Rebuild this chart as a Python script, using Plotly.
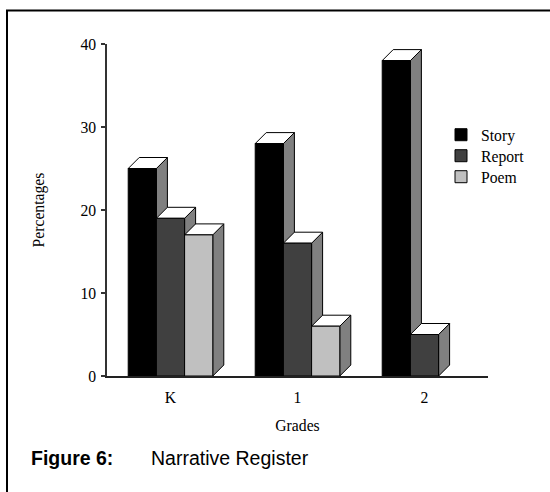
import plotly.graph_objects as go

# ---- data ----
grades = ["K", "1", "2"]
series_names = ["Story", "Report", "Poem"]
story = [25, 28, 38]
report = [19, 16, 5]
poem = [17, 6, None]

values = [story, report, poem]
front_colors = ["#000000", "#404040", "#c0c0c0"]
side_color = "#808080"
top_color = "#ffffff"

# ---- geometry constants (layout) ----
W, H = 550, 492
ML, MR, MT, MB = 107, 62, 44, 116
PW = W - ML - MR
PH = H - MT - MB
YMAX = 40
N_SER = 3
BAR_W = 0.222                     # fraction of a category slot
BARGAP = 1 - N_SER * BAR_W
DEPTH_PX = 11
DX = DEPTH_PX / (PW / len(grades))  # depth in category units
DY = DEPTH_PX / (PH / YMAX)         # depth in y units

SERIF = "Liberation Serif, Times New Roman, serif"
SANS = "Liberation Sans, Arial, sans-serif"
FS = 15.7

legend_ids = ["legend", "legend2", "legend3"]
legend_y_px = [135, 156, 177]


def px_to_paper_x(px):
    return (px - ML) / PW


def px_to_paper_y(py):
    return (H - MB - py) / PH


fig = go.Figure()

for j, (name, vals) in enumerate(zip(series_names, values)):
    fig.add_trace(go.Bar(
        x=grades, y=vals, name=name, legend=legend_ids[j],
        marker=dict(color=front_colors[j], line=dict(color="black", width=1)),
    ))

# 3-D depth faces (side + top) derived from the data values
shapes = []
for j, vals in enumerate(values):
    for i, v in enumerate(vals):
        if v is None:
            continue
        center = i + (j - (N_SER - 1) / 2) * BAR_W
        xl = center - BAR_W / 2
        xr = center + BAR_W / 2
        side = (f"M {xr},0 L {xr+DX},{DY} L {xr+DX},{v+DY} L {xr},{v} Z")
        top = (f"M {xl},{v} L {xl+DX},{v+DY} L {xr+DX},{v+DY} L {xr},{v} Z")
        for path, col in ((side, side_color), (top, top_color)):
            shapes.append(dict(type="path", path=path, xref="x", yref="y",
                               fillcolor=col, line=dict(color="black", width=1),
                               layer="below"))

# outer frame (extends past the right and bottom edges of the page)
shapes.append(dict(type="rect", xref="paper", yref="paper",
                   x0=px_to_paper_x(7), x1=px_to_paper_x(W + 20),
                   y0=px_to_paper_y(H + 20), y1=px_to_paper_y(10.5),
                   line=dict(color="black", width=2), fillcolor="rgba(0,0,0,0)",
                   layer="above"))

annotations = [
    dict(text="<b>Figure 6:</b>", xref="paper", yref="paper",
         x=px_to_paper_x(29), y=px_to_paper_y(458), xanchor="left", yanchor="middle",
         showarrow=False, font=dict(family=SANS, size=19.5, color="black")),
    dict(text="Narrative Register", xref="paper", yref="paper",
         x=px_to_paper_x(149), y=px_to_paper_y(458), xanchor="left", yanchor="middle",
         showarrow=False, font=dict(family=SANS, size=19.5, color="black")),
]

legend_common = dict(xanchor="left", yanchor="middle",
                     font=dict(family=SERIF, size=FS, color="black"),
                     bgcolor="rgba(0,0,0,0)", itemwidth=30)

layout_legends = {}
for lid, ypx in zip(legend_ids, legend_y_px):
    layout_legends[lid] = dict(x=px_to_paper_x(441), y=px_to_paper_y(ypx), **legend_common)

fig.update_layout(
    width=W, height=H,
    margin=dict(l=ML, r=MR, t=MT, b=MB, pad=0),
    paper_bgcolor="white", plot_bgcolor="white",
    barmode="group", bargap=BARGAP, bargroupgap=0,
    font=dict(family=SERIF, size=FS, color="black"),
    showlegend=True,
    shapes=shapes,
    annotations=annotations,
    xaxis=dict(type="category", range=[-0.5, 2.5], showline=True, linecolor="#222",
               linewidth=1.5, ticks="", showgrid=False, zeroline=False,
               tickfont=dict(family=SERIF, size=FS, color="black"),
               ticklabelstandoff=6,
               title=dict(text="Grades", font=dict(family=SERIF, size=FS, color="black"),
                          standoff=15)),
    yaxis=dict(range=[0, YMAX], tickvals=[0, 10, 20, 30, 40], showline=True,
               linecolor="#333", linewidth=1.5, ticks="outside", ticklen=4,
               tickcolor="#333", tickwidth=1.5, showgrid=False, zeroline=False,
               tickfont=dict(family=SERIF, size=FS, color="black"),
               ticklabelstandoff=2,
               title=dict(text="Percentages", font=dict(family=SERIF, size=FS, color="black"),
                          standoff=32)),
    **layout_legends,
)

fig.write_html("out.html")
